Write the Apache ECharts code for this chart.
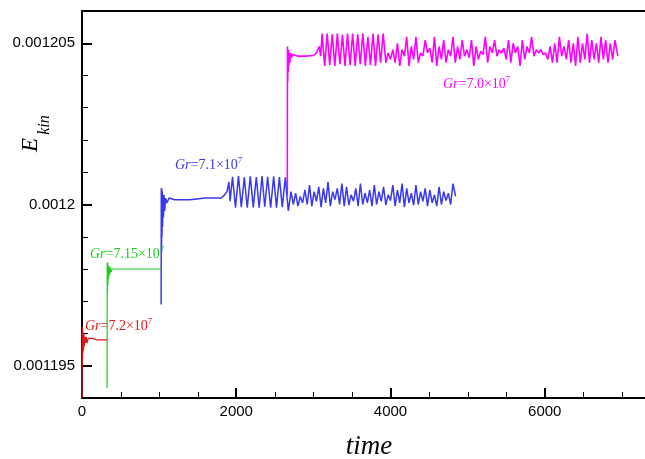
<!DOCTYPE html>
<html>
<head>
<meta charset="utf-8">
<script src="https://cdn.jsdelivr.net/npm/echarts@6/dist/echarts.min.js"></script>
<style>html,body{margin:0;padding:0;background:#fff;}#c{width:645px;height:459px;}</style>
</head>
<body>
<div id="c"></div>
<script>
// ---- data (time, E_kin) ----
var xMajorTicks = [0, 2000, 4000, 6000];
var xMinorTicks = [500, 1000, 1500, 2500, 3000, 3500, 4500, 5000, 5500, 6500, 7000];
var yMajorTicks = [0.001195, 0.0012, 0.001205];
var yMinorTicks = [0.001194, 0.001196, 0.001197, 0.001198, 0.001199, 0.001201, 0.001202, 0.001203, 0.001204, 0.001206];

var redT = [0, 2, 4, 6, 8, 10, 13, 16, 20, 25, 30, 36, 44, 54, 66, 80, 100, 140, 200, 325];
var redE = [0.001194, 0.0011961, 0.0011950, 0.0011962, 0.0011952, 0.0011961, 0.0011954, 0.0011960, 0.0011955, 0.0011960, 0.0011956, 0.0011959, 0.0011957, 0.0011959, 0.0011957, 0.00119585, 0.0011958, 0.00119585, 0.0011958, 0.0011958];

var greenT = [325, 327, 330, 333, 336, 340, 345, 350, 357, 365, 375, 390, 410, 440, 500, 600, 800, 1026];
var greenE = [0.0011943, 0.0011982, 0.0011972, 0.0011982, 0.0011975, 0.0011981, 0.0011977, 0.0011981, 0.0011978, 0.00119805, 0.0011979, 0.0011980, 0.00119795, 0.0011980, 0.0011980, 0.0011980, 0.0011980, 0.0011980];

var blueT = [1026, 1028, 1031, 1034, 1037, 1041, 1045, 1050, 1056, 1063, 1072, 1085, 1100, 1130, 1200, 1400, 1600, 1800, 1850, 1880, 1905, 1920,
  1952, 1990, 2029, 2066, 2104, 2143, 2182, 2221, 2260, 2297, 2334, 2370, 2407, 2446, 2485, 2522, 2559, 2597, 2636, 2675,
  2710, 2740, 2770, 2800, 2830, 2860, 2890, 2920, 2950, 2980, 3010, 3040, 3070, 3100, 3130, 3160, 3190, 3220, 3250, 3280,
  3310, 3340, 3370, 3400, 3430, 3460, 3490, 3520, 3550, 3580, 3610, 3640, 3670, 3700, 3730, 3760, 3790, 3820, 3850, 3880,
  3910, 3940, 3970, 4000, 4030, 4060, 4090, 4120, 4150, 4180, 4210, 4240, 4270, 4300, 4330, 4360, 4390, 4420, 4450, 4480,
  4510, 4540, 4570, 4600, 4630, 4660, 4690, 4720, 4750, 4780, 4810, 4844];
var blueE = [0.0011969, 0.0012005, 0.0011985, 0.0012005, 0.0011990, 0.0012004, 0.0011993, 0.0012003, 0.0011996, 0.0012003, 0.0011998, 0.0012002, 0.00120005, 0.0012002, 0.00120015, 0.00120015, 0.0012002, 0.0012002, 0.0012003, 0.0012004, 0.0012007, 0.0012001,
  0.00120086, 0.0011999, 0.00120088, 0.00119992, 0.00120084, 0.0011999, 0.00120087, 0.00119991, 0.00120085, 0.0011999, 0.00120088, 0.00119993, 0.00120086, 0.0011999, 0.00120087, 0.0011999, 0.00120085, 0.00119992, 0.00120084, 0.0011998,
  0.0012004, 0.0012000, 0.00120035, 0.00119995, 0.00120025, 0.00120005, 0.00120045, 0.0012000, 0.0012006, 0.00119995, 0.0012004, 0.0012001, 0.00120055, 0.00119992, 0.0012005, 0.00120005, 0.0012007, 0.00119995, 0.0012004, 0.00120015,
  0.0012005, 0.0012000, 0.00120065, 0.00119995, 0.00120055, 0.00119998, 0.0012003, 0.0012001, 0.0012005, 0.00119995, 0.00120065, 0.0012000, 0.00120035, 0.00120005, 0.00120045, 0.00119995, 0.0012006, 0.0012000, 0.0012004, 0.0012001,
  0.00120055, 0.00119998, 0.0012003, 0.00120012, 0.0012006, 0.00119995, 0.00120045, 0.00120005, 0.00120065, 0.00119992, 0.0012005, 0.00120005, 0.00120035, 0.00119998, 0.0012006, 0.0012000, 0.0012004, 0.0012001, 0.0012005, 0.00119995,
  0.00120045, 0.00120005, 0.0012003, 0.00119995, 0.00120055, 0.0012000, 0.0012004, 0.00120012, 0.00120035, 0.0012000, 0.00120065, 0.00120025];

var magT = [2662, 2664, 2667, 2670, 2673, 2677, 2682, 2688, 2695, 2704, 2715, 2730, 2750, 2800, 2900, 3000, 3040, 3075, 3095,
  3113, 3146, 3179, 3212, 3245, 3278, 3311, 3344, 3377, 3410, 3443, 3476, 3509, 3542, 3575, 3608, 3641, 3674, 3707, 3740, 3773, 3806, 3839, 3872, 3905,
  3940, 3970, 4000, 4030, 4060, 4090, 4120, 4150, 4180, 4210, 4240, 4270, 4300, 4330, 4360, 4390, 4420, 4450, 4480, 4510,
  4540, 4570, 4600, 4630, 4660, 4690, 4720, 4750, 4780, 4810, 4840, 4870, 4900, 4930, 4960, 4990, 5020, 5050, 5080, 5110,
  5140, 5170, 5200, 5230, 5260, 5290, 5320, 5350, 5380, 5410, 5440, 5470, 5500, 5530, 5560, 5590, 5620, 5650, 5680, 5710,
  5740, 5770, 5800, 5830, 5860, 5890, 5920, 5950, 5980, 6010, 6040, 6070, 6100, 6130, 6160, 6190, 6220, 6250, 6280, 6310,
  6340, 6370, 6400, 6430, 6460, 6490, 6520, 6550, 6580, 6610, 6640, 6670, 6700, 6730, 6760, 6790, 6820, 6850, 6880, 6910, 6948];
var magE = [0.0012003, 0.0012049, 0.0012038, 0.0012048, 0.0012041, 0.0012048, 0.0012043, 0.0012047, 0.0012044, 0.0012047, 0.00120455, 0.00120465, 0.0012046, 0.0012046, 0.0012046, 0.00120462, 0.0012047, 0.0012049, 0.0012046,
  0.0012053, 0.0012043, 0.0012053, 0.00120432, 0.00120528, 0.0012043, 0.0012053, 0.00120435, 0.00120527, 0.0012043, 0.0012053, 0.00120432, 0.0012053, 0.0012043, 0.00120528, 0.00120435, 0.0012053, 0.0012043, 0.0012052, 0.00120432, 0.0012053, 0.0012043, 0.00120527, 0.0012044, 0.0012053,
  0.0012044, 0.0012047, 0.0012045, 0.0012048, 0.0012044, 0.0012050, 0.0012043, 0.0012048, 0.0012046, 0.0012052, 0.0012043, 0.0012049, 0.0012045, 0.0012052, 0.0012044, 0.0012047, 0.0012046, 0.0012051, 0.0012047, 0.00120485,
  0.0012044, 0.0012052, 0.0012043, 0.0012049, 0.0012045, 0.0012051, 0.0012044, 0.0012048, 0.0012046, 0.0012052, 0.0012044, 0.0012049, 0.0012045, 0.0012051, 0.0012046, 0.0012048, 0.00120455, 0.0012051, 0.0012043, 0.0012049,
  0.0012045, 0.00120475, 0.00120465, 0.0012052, 0.0012044, 0.0012049, 0.0012047, 0.0012051, 0.0012046, 0.0012048, 0.0012047, 0.00120485, 0.0012045, 0.0012051, 0.0012044, 0.0012050, 0.0012047, 0.0012049, 0.0012043, 0.0012051,
  0.0012045, 0.0012049, 0.0012047, 0.0012052, 0.0012046, 0.0012048, 0.0012047, 0.0012048, 0.00120465, 0.0012047, 0.0012045, 0.0012049, 0.0012044, 0.0012050, 0.0012044, 0.0012052, 0.0012046, 0.0012049, 0.0012045, 0.0012051,
  0.0012044, 0.0012050, 0.0012043, 0.0012052, 0.0012044, 0.0012050, 0.0012045, 0.0012053, 0.0012044, 0.0012051, 0.0012045, 0.0012050, 0.0012044, 0.0012052, 0.0012045, 0.0012051, 0.0012044, 0.0012050, 0.0012045, 0.0012051, 0.0012046];

var labels = [
  {num: '=7.2×10', color: '#e01818'},
  {num: '=7.15×10', color: '#22cc22'},
  {num: '=7.1×10', color: '#3838f0'},
  {num: '=7.0×10', color: '#ff00ff'}
];

function zip(t, e) { return t.map(function (v, i) { return [v, e[i]]; }); }

var SERIF = '"Liberation Serif", "Times New Roman", serif';
var SANS = '"Liberation Sans", Arial, sans-serif';

function grLabel(lb, x, y) {
  return {
    type: 'text', x: x, y: y, z: 10,
    style: {
      text: '{g|Gr}{n|' + lb.num + '}{s|7}',
      fill: lb.color,
      textVerticalAlign: 'middle',
      rich: {
        g: {fontFamily: SERIF, fontStyle: 'italic', fontSize: 14, fill: lb.color, lineHeight: 16, verticalAlign: 'bottom'},
        n: {fontFamily: SERIF, fontSize: 14, fill: lb.color, lineHeight: 16, verticalAlign: 'bottom'},
        s: {fontFamily: SERIF, fontSize: 9, fill: lb.color, lineHeight: 16, verticalAlign: 'top'}
      }
    }
  };
}

var chart = echarts.init(document.getElementById('c'), null, {renderer: 'canvas'});
var xMin = 0, xMax = 7300, yMin = 0.001194, yMax = 0.001206;
function fmtY(v) { return String(+v.toPrecision(6)); }
function fmtX(v) { return String(Math.round(v)); }

chart.setOption({
  animation: false,
  backgroundColor: '#fff',
  grid: {left: 82, top: 11, right: 0, bottom: 61, containLabel: false},
  xAxis: [
    {type: 'value', min: xMin, max: xMax, position: 'bottom',
      axisLine: {show: true, onZero: false, lineStyle: {color: '#000', width: 2}},
      axisTick: {show: true, inside: true, length: 10, lineStyle: {color: '#000', width: 2}, customValues: xMajorTicks},
      axisLabel: {show: true, customValues: xMajorTicks, color: '#000', fontFamily: SANS, fontSize: 15, margin: 6, formatter: fmtX},
      splitLine: {show: false}},
    {type: 'value', min: xMin, max: xMax, position: 'top',
      axisLine: {show: true, onZero: false, lineStyle: {color: '#000', width: 2}},
      axisTick: {show: false}, axisLabel: {show: false}, splitLine: {show: false}}
  ],
  yAxis: [
    {type: 'value', min: yMin, max: yMax, position: 'left',
      axisLine: {show: true, onZero: false, lineStyle: {color: '#000', width: 2}},
      axisTick: {show: true, inside: true, length: 10, lineStyle: {color: '#000', width: 2}, customValues: yMajorTicks},
      axisLabel: {show: true, customValues: yMajorTicks, color: '#000', fontFamily: SANS, fontSize: 15, margin: 7, formatter: fmtY},
      splitLine: {show: false}},
    {type: 'value', min: yMin, max: yMax, position: 'left',
      axisLine: {show: false, onZero: false},
      axisTick: {show: true, inside: true, length: 6, lineStyle: {color: '#000', width: 1}, customValues: yMinorTicks},
      axisLabel: {show: false}, splitLine: {show: false}}
  ],
  series: [
    {type: 'line', name: 'Gr=7.0e7', data: zip(magT, magE), showSymbol: false, symbol: 'none', lineStyle: {color: '#ff00ff', width: 1.6}, z: 2},
    {type: 'line', name: 'Gr=7.1e7', data: zip(blueT, blueE), showSymbol: false, symbol: 'none', lineStyle: {color: '#3838f0', width: 1.5}, z: 3},
    {type: 'line', name: 'Gr=7.15e7', data: zip(greenT, greenE), showSymbol: false, symbol: 'none', lineStyle: {color: '#22cc22', width: 1.2}, z: 3},
    {type: 'line', name: 'Gr=7.2e7', data: zip(redT, redE), showSymbol: false, symbol: 'none', lineStyle: {color: '#e01818', width: 1.2}, z: 3}
  ]
});

// minor x ticks placed through the axis scale
var graphics = [
  grLabel(labels[0], 85, 325),
  grLabel(labels[1], 90, 253),
  grLabel(labels[2], 175, 164),
  grLabel(labels[3], 443, 83),
  {type: 'text', x: 31, y: 145, rotation: Math.PI / 2, style: {text: 'E', font: 'italic 23px ' + SERIF, fill: '#000', textAlign: 'center', textVerticalAlign: 'middle'}},
  {type: 'text', x: 45, y: 125, rotation: Math.PI / 2, style: {text: 'kin', font: 'italic 16px ' + SERIF, fill: '#000', textAlign: 'center', textVerticalAlign: 'middle'}},
  {type: 'text', x: 369, y: 447, style: {text: 'time', font: 'italic 27px ' + SERIF, fill: '#000', textAlign: 'center', textVerticalAlign: 'middle'}}
];
xMinorTicks.forEach(function (v) {
  var p = chart.convertToPixel({xAxisIndex: 0, yAxisIndex: 0}, [v, yMin]);
  var px = Math.round(p[0]) + 0.5;
  graphics.push({type: 'line', z: 5, silent: true,
    shape: {x1: px, y1: p[1] - 1, x2: px, y2: p[1] - 6},
    style: {stroke: '#000', lineWidth: 1}});
});
chart.setOption({graphic: graphics});
</script>
</body>
</html>
